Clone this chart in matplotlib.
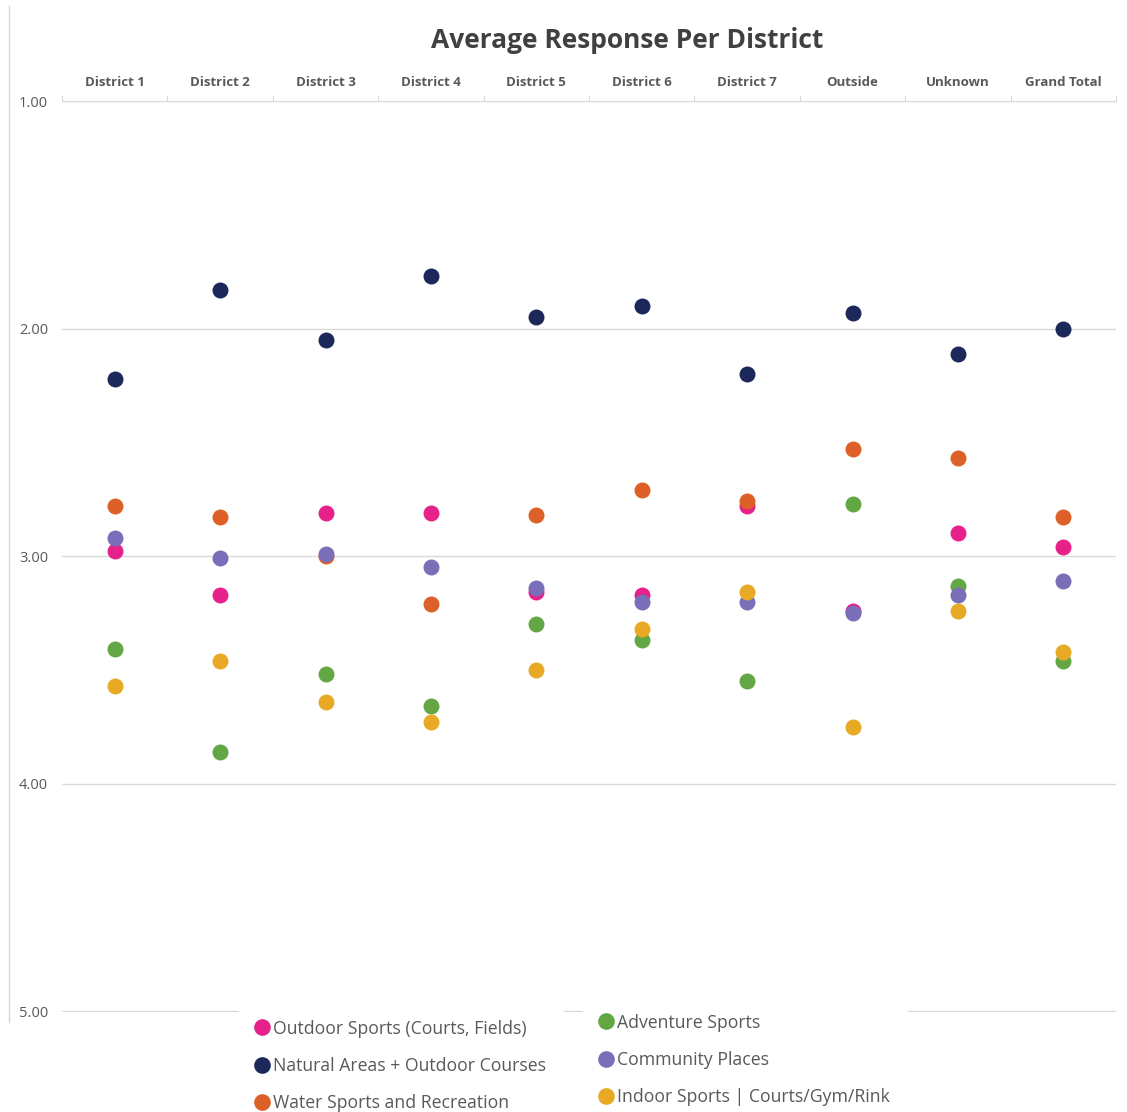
import matplotlib
matplotlib.use("Agg")
import matplotlib.pyplot as plt
from matplotlib.lines import Line2D

# ── data ──────────────────────────────────────────────────────────────────────
DISTRICTS = ["District 1", "District 2", "District 3", "District 4", "District 5",
             "District 6", "District 7", "Outside", "Unknown", "Grand Total"]

OUTDOOR_SPORTS = [2.98, 3.17, 2.81, 2.81, 3.16, 3.17, 2.78, 3.24, 2.90, 2.96]
NATURAL_AREAS  = [2.22, 1.83, 2.05, 1.77, 1.95, 1.90, 2.20, 1.93, 2.11, 2.00]
WATER_SPORTS   = [2.78, 2.83, 3.00, 3.21, 2.82, 2.71, 2.76, 2.53, 2.57, 2.83]
ADVENTURE      = [3.41, 3.86, 3.52, 3.66, 3.30, 3.37, 3.55, 2.77, 3.13, 3.46]
COMMUNITY      = [2.92, 3.01, 2.99, 3.05, 3.14, 3.20, 3.20, 3.25, 3.17, 3.11]
INDOOR_SPORTS  = [3.57, 3.46, 3.64, 3.73, 3.50, 3.32, 3.16, 3.75, 3.24, 3.42]

SERIES = [
    ("Outdoor Sports (Courts, Fields)", OUTDOOR_SPORTS, "#E6228A"),
    ("Natural Areas + Outdoor Courses", NATURAL_AREAS, "#1C2859"),
    ("Water Sports and Recreation", WATER_SPORTS, "#DC6027"),
    ("Adventure Sports", ADVENTURE, "#62A744"),
    ("Community Places", COMMUNITY, "#786FB8"),
    ("Indoor Sports | Courts/Gym/Rink", INDOOR_SPORTS, "#E8AA24"),
]

Y_TICKS = [1, 2, 3, 4, 5]

TEXT_GRAY = "#595959"
GRID_GRAY = "#D9D9D9"
FONT = "Open Sans"

W, H = 1127, 1112

# ── figure ────────────────────────────────────────────────────────────────────
fig = plt.figure(figsize=(W / 100, H / 100), dpi=100)
ax = fig.add_axes([62 / W, 1 - 1012 / H, (1116 - 62) / W, (1012 - 101) / H])

x = list(range(len(DISTRICTS)))
for label, vals, color in SERIES:
    ax.plot(x, vals, linestyle="none", marker="o", markersize=11.5,
            markerfacecolor=color, markeredgecolor=color, markeredgewidth=0, zorder=3)

ax.set_xlim(-0.5, len(DISTRICTS) - 0.5)
ax.set_ylim(5.004, 1)
ax.set_yticks(Y_TICKS)
ax.set_yticklabels([f"{v:.2f}" for v in Y_TICKS], fontsize=10.5, color=TEXT_GRAY, family=FONT)
ax.yaxis.grid(True, color=GRID_GRAY, linewidth=1)
ax.tick_params(axis="y", length=0, pad=10)

# category axis along the top, ticks between categories
ax.xaxis.tick_top()
ax.set_xticks([i - 0.5 for i in range(len(DISTRICTS) + 1)])
ax.set_xticklabels([])
ax.set_xticks(x, minor=True)
ax.set_xticklabels(DISTRICTS, minor=True, fontsize=9.5, fontweight="bold",
                   color=TEXT_GRAY, family=FONT)
ax.tick_params(axis="x", which="major", length=4, color=GRID_GRAY, direction="out")
ax.tick_params(axis="x", which="minor", length=0, pad=9)

for side in ["left", "right", "bottom"]:
    ax.spines[side].set_visible(False)
ax.spines["top"].set_color(GRID_GRAY)
ax.set_axisbelow(True)

fig.text(627 / W, 1 - 41 / H, "Average Response Per District",
         ha="center", va="center", fontsize=19, fontweight="bold",
         color="#404040", family=FONT)

# thin border line at the left edge of the chart area
fig.add_artist(Line2D([9 / W, 9 / W], [1 - 1022 / H, 1 - 6 / H],
                      color=GRID_GRAY, linewidth=1))

# two legend blocks below the plot
def make_handles(items):
    return [Line2D([], [], linestyle="none", marker="o", markersize=12,
                   markerfacecolor=c, markeredgewidth=0, label=l) for l, _, c in items]

leg_kw = dict(frameon=True, fancybox=False, edgecolor="white", framealpha=1,
              handlelength=0.6, handletextpad=0.3, labelspacing=1.08,
              borderpad=1.0, borderaxespad=0, prop={"family": FONT, "size": 12.7},
              labelcolor=TEXT_GRAY)

leg1 = fig.legend(handles=make_handles(SERIES[:3]), loc="upper left",
                  bbox_to_anchor=(239 / W, 1 - 1002 / H), **leg_kw)
leg2 = fig.legend(handles=make_handles(SERIES[3:]), loc="upper left",
                  bbox_to_anchor=(583 / W, 1 - 996 / H), **leg_kw)

fig.savefig("out.png", dpi=100)
